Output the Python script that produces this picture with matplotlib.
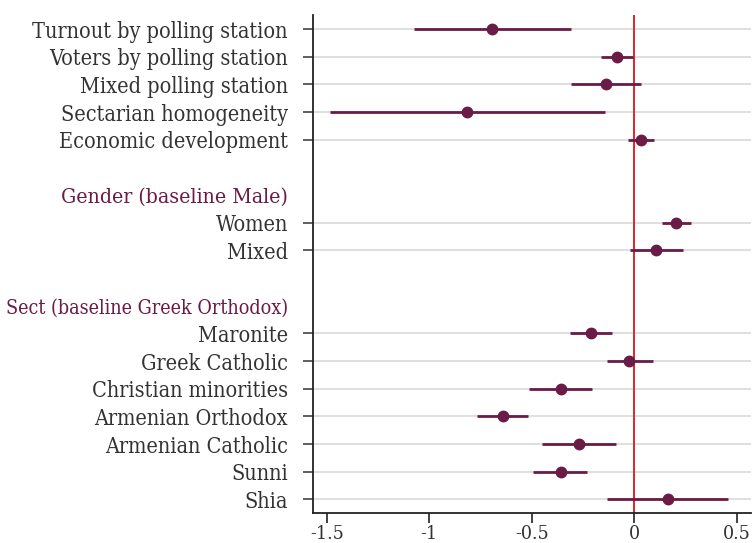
import matplotlib
matplotlib.use("Agg")
import matplotlib.pyplot as plt

# rows from top to bottom; None marks an empty spacer row
labels = ["Turnout by polling station", "Voters by polling station", "Mixed polling station",
          "Sectarian homogeneity", "Economic development", None,
          "Gender (baseline Male)", "Women", "Mixed", None,
          "Sect (baseline Greek Orthodox)", "Maronite", "Greek Catholic", "Christian minorities",
          "Armenian Orthodox", "Armenian Catholic", "Sunni", "Shia"]
# group headers and the label size each one gets
headers = {"Gender (baseline Male)": 15.2, "Sect (baseline Greek Orthodox)": 14.1}

coef_names = ["Turnout by polling station", "Voters by polling station", "Mixed polling station",
              "Sectarian homogeneity", "Economic development", "Women", "Mixed",
              "Maronite", "Greek Catholic", "Christian minorities", "Armenian Orthodox",
              "Armenian Catholic", "Sunni", "Shia"]
coef = [-0.693, -0.084, -0.138, -0.815, 0.031, 0.203, 0.107,
        -0.210, -0.023, -0.359, -0.642, -0.268, -0.359, 0.163]
ci_low = [-1.073, -0.162, -0.309, -1.486, -0.029, 0.135, -0.019,
          -0.314, -0.133, -0.514, -0.766, -0.449, -0.493, -0.133]
ci_high = [-0.310, -0.008, 0.034, -0.143, 0.096, 0.278, 0.239,
           -0.106, 0.090, -0.208, -0.520, -0.091, -0.229, 0.460]

xticks = [-1.5, -1, -0.5, 0, 0.5]
xticklabels = ["-1.5", "-1", "-0.5", "0", "0.5"]

MAROON = "#6a1b46"
RED = "#e3242b"
TEXT = "#333333"

plt.rcParams["font.family"] = "DejaVu Serif"
plt.rcParams["font.stretch"] = "condensed"

fig = plt.figure(figsize=(7.52, 5.43), dpi=100)
ax = fig.add_axes([0.4162, 0.0552, 0.9987 - 0.4162, 0.9724 - 0.0552])

pos = {lab: i + 1 for i, lab in enumerate(labels) if lab is not None}
ys = [pos[n] for n in coef_names]

for y in ys:
    ax.axhline(y, color="#d9d9d9", lw=1.2, zorder=0)
ax.axvline(0, color=RED, lw=1.4, zorder=1)
ax.hlines(ys, ci_low, ci_high, color=MAROON, lw=2, zorder=2)
ax.plot(coef, ys, "o", color=MAROON, ms=7.5, zorder=3)

shown = [l for l in labels if l is not None]
ax.set_ylim(len(labels) + 0.49, 0.49)
ax.set_xlim(-1.567, 0.57)
ax.set_yticks([pos[l] for l in shown])
ax.set_yticklabels(shown)
ax.set_xticks(xticks)
ax.set_xticklabels(xticklabels, color=TEXT)

ax.tick_params(axis="y", length=7, width=1.2, pad=11, labelsize=15.5, color="#444444")
ax.tick_params(axis="x", length=7, width=1.2, pad=1.5, labelsize=14, color="#222222")

# group headers: no tick mark, maroon text
for t, lab in zip(ax.yaxis.get_major_ticks(), shown):
    if lab in headers:
        t.tick1line.set_visible(False)
        t.label1.set_color(MAROON)
        t.label1.set_fontsize(headers[lab])
    else:
        t.label1.set_color(TEXT)

for side in ["top", "right"]:
    ax.spines[side].set_visible(False)
for side in ["left", "bottom"]:
    ax.spines[side].set_linewidth(1.3)
    ax.spines[side].set_color("#222222")

fig.savefig("out.png", dpi=100)
